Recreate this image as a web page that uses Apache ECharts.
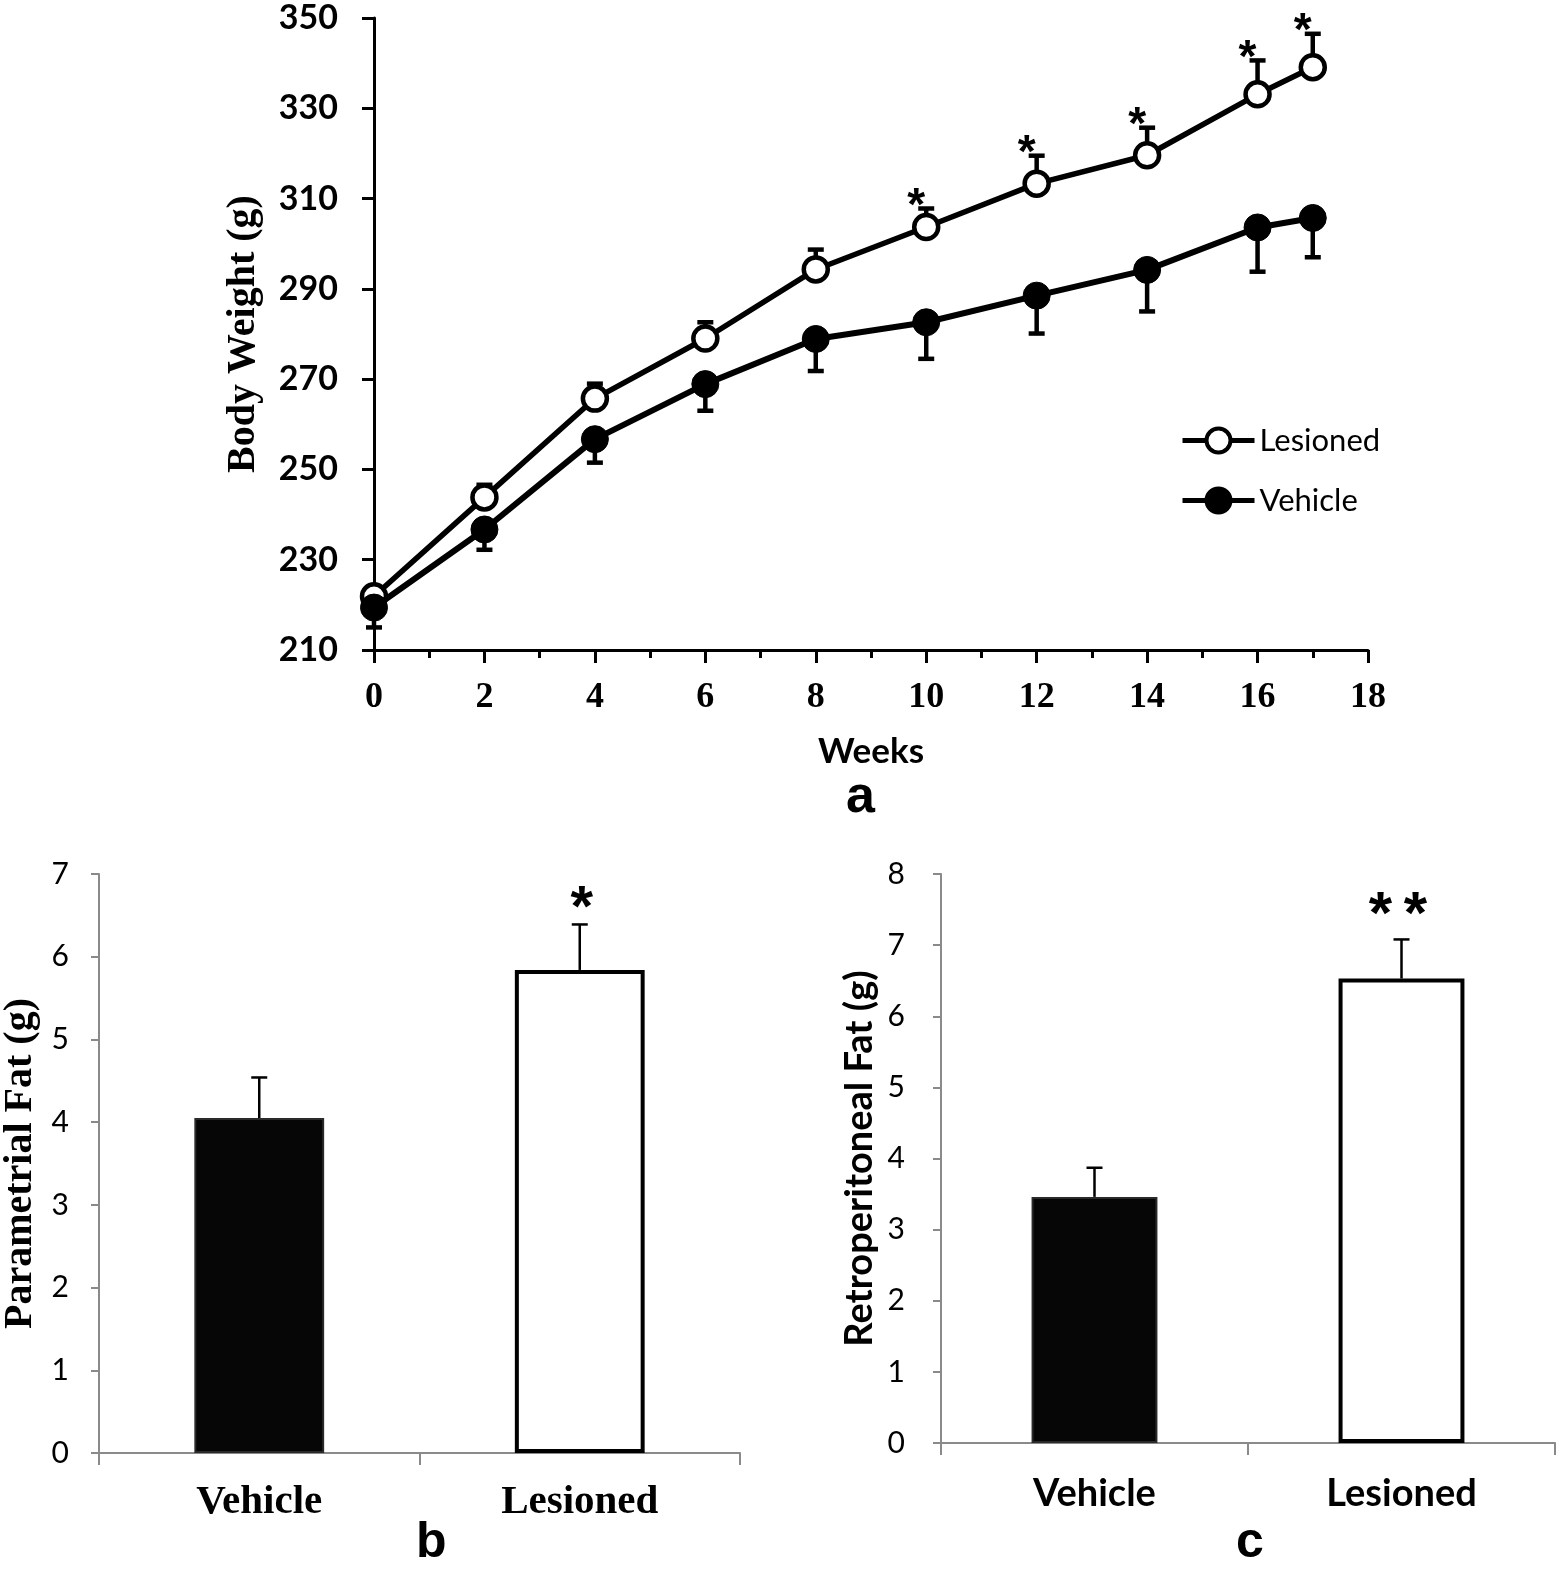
<!DOCTYPE html>
<html>
<head>
<meta charset="utf-8">
<script src="https://cdn.jsdelivr.net/npm/echarts@6/dist/echarts.min.js"></script>
<style>
html,body{margin:0;padding:0;background:#fff;}
#chart{width:1556px;height:1582px;}
</style>
</head>
<body>
<div id="chart"></div>
<script>
// ---- Panel a: body weight over weeks ----
const weeks = [0, 2, 4, 6, 8, 10, 12, 14, 16, 17];
const lesionedMean = [221.9, 243.8, 265.7, 279.0, 294.3, 303.7, 313.3, 319.6, 333.1, 339.1];
const lesionedSE   = [1.5, 2.8, 3.3, 3.6, 4.4, 4.1, 6.2, 6.1, 7.5, 7.4];
const vehicleMean  = [219.4, 236.7, 256.7, 268.9, 278.9, 282.6, 288.5, 294.2, 303.6, 305.7];
const vehicleSE    = [4.4, 4.5, 5.2, 5.9, 7.1, 8.1, 8.4, 9.2, 9.8, 8.7];
const sigWeeks = [10, 12, 14, 16, 17];
const weightTicks = [210, 230, 250, 270, 290, 310, 330, 350];
const weekTicks = [0, 2, 4, 6, 8, 10, 12, 14, 16, 18];

// ---- Panels b and c: fat pads ----
const fatGroups = ['Vehicle', 'Lesioned'];
const parametrialMean = [4.05, 5.84];
const parametrialSE = [0.49, 0.55];
const retroMean = [3.46, 6.53];
const retroSE = [0.41, 0.55];

const SERIF = '"Liberation Serif", "Times New Roman", serif';
const SANS = 'Lato, "Open Sans", sans-serif';
const ARIAL = '"Liberation Sans", Arial, sans-serif';

const chart = echarts.init(document.getElementById('chart'), null, {renderer: 'canvas'});

function errRender(dir, capHalf, lw) {
  return function (params, api) {
    const x = api.value(0), m = api.value(1), se = api.value(2);
    const p0 = api.coord([x, m]);
    const p1 = api.coord([x, m + dir * se]);
    return {
      type: 'group',
      children: [
        {type: 'line', shape: {x1: p0[0], y1: p0[1], x2: p1[0], y2: p1[1]}, style: {stroke: '#000', lineWidth: lw}},
        {type: 'line', shape: {x1: p1[0] - capHalf, y1: p1[1], x2: p1[0] + capHalf, y2: p1[1]}, style: {stroke: '#000', lineWidth: lw}}
      ]
    };
  };
}

// draws one asterisk per entry of dxs, above the point given by the data
function starRender(dxs, dy, size) {
  return function (params, api) {
    const p = api.coord([api.value(0), api.value(1)]);
    return {
      type: 'group',
      children: dxs.map(dx => ({
        type: 'text',
        style: {
          x: p[0] + dx, y: p[1] + dy, text: '*', fill: '#000',
          font: 'bold ' + size + 'px ' + ARIAL, align: 'center', verticalAlign: 'middle'
        }
      }))
    };
  };
}

const lesErr = weeks.map((w, i) => [w, lesionedMean[i], lesionedSE[i]]);
const vehErr = weeks.map((w, i) => [w, vehicleMean[i], vehicleSE[i]]);
const starData = sigWeeks.map(w => {
  const i = weeks.indexOf(w);
  return [w, lesionedMean[i] + lesionedSE[i]];
});

const option = {
  animation: false,
  backgroundColor: '#fff',
  grid: [
    {left: 374, top: 18, width: 994, height: 632},
    {left: 94, top: 874, width: 646, height: 579},
    {left: 941, top: 874, width: 614, height: 569}
  ],
  legend: {
    data: ['Lesioned', 'Vehicle'],
    orient: 'vertical',
    left: 1175, top: 420,
    itemWidth: 72, itemHeight: 30, itemGap: 29,
    textStyle: {fontFamily: SANS, fontSize: 31, color: '#000'},
    lineStyle: {width: 5},
    itemStyle: {borderWidth: 4}
  },
  xAxis: [
    {
      type: 'value', gridIndex: 0, min: 0, max: 18, interval: 2,
      name: 'Weeks', nameLocation: 'middle', nameGap: 84,
      nameTextStyle: {fontFamily: SANS, fontWeight: 'bold', fontSize: 35, color: '#000'},
      axisLine: {show: true, lineStyle: {color: '#000', width: 3}},
      axisTick: {show: true, length: 13, lineStyle: {color: '#000', width: 3}},
      minorTick: {show: true, splitNumber: 2, length: 8, lineStyle: {color: '#000', width: 3}},
      splitLine: {show: false},
      axisLabel: {margin: 30, fontFamily: SERIF, fontWeight: 'bold', fontSize: 36, color: '#000',
        formatter: v => weekTicks.indexOf(v) >= 0 ? String(v) : ''}
    },
    {
      type: 'category', gridIndex: 1, data: fatGroups, boundaryGap: true,
      axisLine: {lineStyle: {color: '#8a8a8a', width: 2}},
      axisTick: {show: true, length: 12, lineStyle: {color: '#8a8a8a', width: 2}},
      axisLabel: {margin: 29, fontFamily: SERIF, fontWeight: 'bold', fontSize: 41, color: '#000'}
    },
    {
      type: 'category', gridIndex: 2, data: fatGroups, boundaryGap: true,
      axisLine: {lineStyle: {color: '#8a8a8a', width: 2}},
      axisTick: {show: true, length: 12, lineStyle: {color: '#8a8a8a', width: 2}},
      axisLabel: {margin: 32, fontFamily: SANS, fontWeight: 'bold', fontSize: 38, color: '#000'}
    }
  ],
  yAxis: [
    {
      type: 'value', gridIndex: 0, min: 210, max: 350, interval: 20,
      name: 'Body Weight (g)', nameLocation: 'middle', nameGap: 110, nameRotate: 90,
      nameTextStyle: {fontFamily: SERIF, fontWeight: 'bold', fontSize: 40, color: '#000'},
      axisLine: {show: true, lineStyle: {color: '#000', width: 3}},
      axisTick: {show: true, length: 12, lineStyle: {color: '#000', width: 3}},
      splitLine: {show: false},
      axisLabel: {margin: 36, fontFamily: SANS, fontWeight: 'bold', fontSize: 34, color: '#000',
        formatter: v => weightTicks.indexOf(v) >= 0 ? String(v) : ''}
    },
    {
      type: 'value', gridIndex: 1, min: 0, max: 7, interval: 1,
      name: 'Parametrial Fat (g)', nameLocation: 'middle', nameGap: 58, nameRotate: 90,
      nameTextStyle: {fontFamily: SERIF, fontWeight: 'bold', fontSize: 40, color: '#000'},
      axisLine: {show: true, lineStyle: {color: '#8a8a8a', width: 2}},
      axisTick: {show: true, length: 8, lineStyle: {color: '#8a8a8a', width: 2}},
      splitLine: {show: false},
      axisLabel: {margin: 30, fontFamily: SANS, fontSize: 30, color: '#000'}
    },
    {
      type: 'value', gridIndex: 2, min: 0, max: 8, interval: 1,
      name: 'Retroperitoneal Fat (g)', nameLocation: 'middle', nameGap: 62, nameRotate: 90,
      nameTextStyle: {fontFamily: SANS, fontWeight: 'bold', fontSize: 38, color: '#000'},
      axisLine: {show: true, lineStyle: {color: '#8a8a8a', width: 2}},
      axisTick: {show: true, length: 8, lineStyle: {color: '#8a8a8a', width: 2}},
      splitLine: {show: false},
      axisLabel: {margin: 36, fontFamily: SANS, fontSize: 30, color: '#000'}
    }
  ],
  series: [
    {type: 'custom', name: 'lesErr', xAxisIndex: 0, yAxisIndex: 0, z: 1, data: lesErr,
      renderItem: errRender(1, 8, 4.5), silent: true},
    {type: 'custom', name: 'vehErr', xAxisIndex: 0, yAxisIndex: 0, z: 1, data: vehErr,
      renderItem: errRender(-1, 8, 4.5), silent: true},
    {
      type: 'line', name: 'Lesioned', xAxisIndex: 0, yAxisIndex: 0, z: 3,
      data: weeks.map((w, i) => [w, lesionedMean[i]]),
      symbol: 'circle', symbolSize: 24, showAllSymbol: true,
      lineStyle: {color: '#000', width: 5.5},
      itemStyle: {color: '#fff', borderColor: '#000', borderWidth: 4.5}
    },
    {
      type: 'line', name: 'Vehicle', xAxisIndex: 0, yAxisIndex: 0, z: 4,
      data: weeks.map((w, i) => [w, vehicleMean[i]]),
      symbol: 'circle', symbolSize: 27, showAllSymbol: true,
      lineStyle: {color: '#000', width: 6},
      itemStyle: {color: '#000', borderColor: '#000', borderWidth: 1}
    },
    {type: 'custom', name: 'stars', xAxisIndex: 0, yAxisIndex: 0, z: 5, data: starData,
      renderItem: starRender([-10], -1, 46), silent: true},

    {
      type: 'bar', name: 'parametrial', xAxisIndex: 1, yAxisIndex: 1, barWidth: '40.5%', z: 2,
      data: parametrialMean.map((v, i) => ({
        value: v,
        itemStyle: i === 0 ? {color: '#060606', borderColor: '#2a2a2a', borderWidth: 2}
                           : {color: '#fff', borderColor: '#000', borderWidth: 4}
      }))
    },
    {type: 'custom', name: 'parErr', xAxisIndex: 1, yAxisIndex: 1, z: 1,
      data: fatGroups.map((g, i) => [i, parametrialMean[i], parametrialSE[i]]),
      renderItem: errRender(1, 8, 2.5), silent: true},
    {type: 'custom', name: 'parStar', xAxisIndex: 1, yAxisIndex: 1, z: 5,
      data: [[1, parametrialMean[1] + parametrialSE[1]]],
      renderItem: starRender([2], -14, 58), silent: true},

    {
      type: 'bar', name: 'retro', xAxisIndex: 2, yAxisIndex: 2, barWidth: '41%', z: 2,
      data: retroMean.map((v, i) => ({
        value: v,
        itemStyle: i === 0 ? {color: '#060606', borderColor: '#2a2a2a', borderWidth: 2}
                           : {color: '#fff', borderColor: '#000', borderWidth: 4}
      }))
    },
    {type: 'custom', name: 'retErr', xAxisIndex: 2, yAxisIndex: 2, z: 1,
      data: fatGroups.map((g, i) => [i, retroMean[i], retroSE[i]]),
      renderItem: errRender(1, 8, 2.5), silent: true},
    {type: 'custom', name: 'retStar', xAxisIndex: 2, yAxisIndex: 2, z: 5,
      data: [[1, retroMean[1] + retroSE[1]]],
      renderItem: starRender([-21, 14], -23, 60), silent: true}
  ],
  graphic: [
    {type: 'text', left: 846, top: 772, style: {text: 'a', font: 'bold 52px ' + ARIAL, fill: '#000'}},
    {type: 'text', left: 416, top: 1518, style: {text: 'b', font: 'bold 50px ' + ARIAL, fill: '#000'}},
    {type: 'text', left: 1236, top: 1518, style: {text: 'c', font: 'bold 50px ' + ARIAL, fill: '#000'}}
  ]
};
chart.setOption(option);
</script>
</body>
</html>
